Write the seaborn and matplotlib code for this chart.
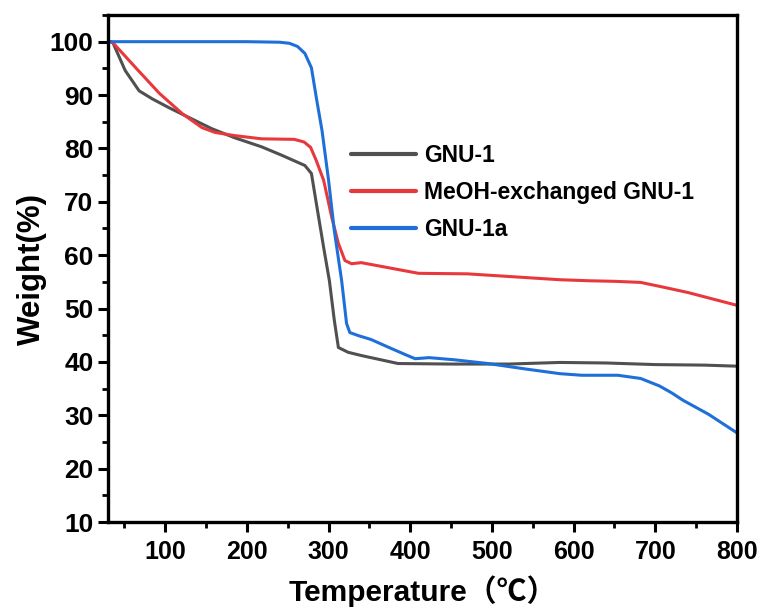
import matplotlib
matplotlib.use("Agg")
import matplotlib.pyplot as plt
from matplotlib.ticker import MultipleLocator
import seaborn as sns
import pandas as pd

# TGA curves: temperature (°C) vs residual weight (%)
gnu1_t = [33, 36, 51, 68, 84, 105, 129, 157, 185, 218, 243, 271, 279, 285, 294, 301, 307, 312, 324, 340, 385, 450, 520, 583, 640, 700, 760, 800]
gnu1_w = [100, 99.8, 94.6, 90.8, 89.3, 87.6, 85.8, 83.7, 82.0, 80.3, 78.7, 76.8, 75.3, 69.7, 61.4, 55.2, 47.8, 42.7, 41.8, 41.2, 39.7, 39.6, 39.6, 39.9, 39.8, 39.5, 39.4, 39.2]

meoh_t = [33, 36, 64, 93, 121, 145, 161, 185, 218, 258, 270, 278, 285, 294, 304, 312, 320, 328, 340, 410, 470, 583, 620, 650, 682, 710, 740, 770, 800]
meoh_w = [100, 99.8, 95.1, 90.3, 86.5, 83.9, 83.0, 82.4, 81.8, 81.7, 81.2, 80.2, 77.7, 74.0, 67.0, 62.2, 59.0, 58.4, 58.6, 56.6, 56.5, 55.4, 55.2, 55.1, 54.9, 54.0, 53.0, 51.8, 50.6]

gnu1a_t = [33, 100, 200, 240, 252, 262, 271, 279, 285, 292, 300, 307, 316, 322, 326, 337, 352, 374, 395, 406, 423, 454, 495, 540, 583, 610, 654, 682, 705, 720, 734, 765, 800]
gnu1a_w = [100, 100, 100, 99.9, 99.7, 99.1, 97.8, 95.1, 89.5, 83.3, 74.0, 64.6, 55.2, 47.2, 45.5, 44.9, 44.2, 42.7, 41.3, 40.6, 40.8, 40.4, 39.7, 38.7, 37.8, 37.5, 37.5, 36.9, 35.5, 34.2, 32.8, 30.2, 26.7]

series_names = ["GNU-1", "MeOH-exchanged GNU-1", "GNU-1a"]
series_colors = ["#505050", "#e8383c", "#1f6fd8"]

x_ticks = [100, 200, 300, 400, 500, 600, 700, 800]
y_ticks = [10, 20, 30, 40, 50, 60, 70, 80, 90, 100]

frames = []
for name, t, w in zip(series_names, [gnu1_t, meoh_t, gnu1a_t], [gnu1_w, meoh_w, gnu1a_w]):
    frames.append(pd.DataFrame({"Temperature": t, "Weight": w, "Sample": name}))
df = pd.concat(frames, ignore_index=True)

sns.set_style("ticks")
plt.rcParams["font.family"] = ["Liberation Sans", "Noto Sans CJK SC", "DejaVu Sans"]
plt.rcParams["font.weight"] = "bold"
plt.rcParams["text.color"] = "black"
plt.rcParams["axes.labelcolor"] = "black"
plt.rcParams["xtick.color"] = "black"
plt.rcParams["ytick.color"] = "black"

fig = plt.figure(figsize=(7.64, 6.12), dpi=100)
ax = fig.add_axes([0.1414, 0.147, 0.8233, 0.8285])

sns.lineplot(data=df, x="Temperature", y="Weight", hue="Sample",
             hue_order=series_names, palette=series_colors,
             linewidth=2.2, sort=False, estimator=None, ax=ax)

ax.set_xlim(30, 800)
ax.set_ylim(10, 105)
ax.set_xticks(x_ticks)
ax.set_yticks(y_ticks)
ax.xaxis.set_minor_locator(MultipleLocator(50))
ax.yaxis.set_minor_locator(MultipleLocator(5))

for s in ax.spines.values():
    s.set_linewidth(2.4)
    s.set_color("black")
ax.tick_params(which="major", direction="out", length=7, width=2.2, color="black",
               labelcolor="black")
ax.tick_params(which="minor", direction="out", length=4, width=2.0, color="black")
ax.tick_params(top=False, right=False)
ax.tick_params(axis="x", which="major", pad=6)

for lbl in ax.get_yticklabels():
    lbl.set_fontsize(19)
    lbl.set_fontweight("bold")
for lbl in ax.get_xticklabels():
    lbl.set_fontsize(18)
    lbl.set_fontweight("bold")

ax.set_xlabel("Temperature（℃）", fontsize=21.5, fontweight="bold", color="black",
              labelpad=8)
ax.set_ylabel("Weight(%)", fontsize=22.5, fontweight="bold", color="black", labelpad=2)

leg = ax.legend(loc="upper left", bbox_to_anchor=(0.386, 0.745), frameon=False,
                fontsize=16.5, handlelength=2.85, handletextpad=0.35,
                labelspacing=0.6, borderpad=0, borderaxespad=0)
for txt in leg.get_texts():
    txt.set_fontweight("bold")
    txt.set_color("black")
for h in leg.get_lines():
    h.set_linewidth(3.0)

fig.savefig("out.png", dpi=100)
